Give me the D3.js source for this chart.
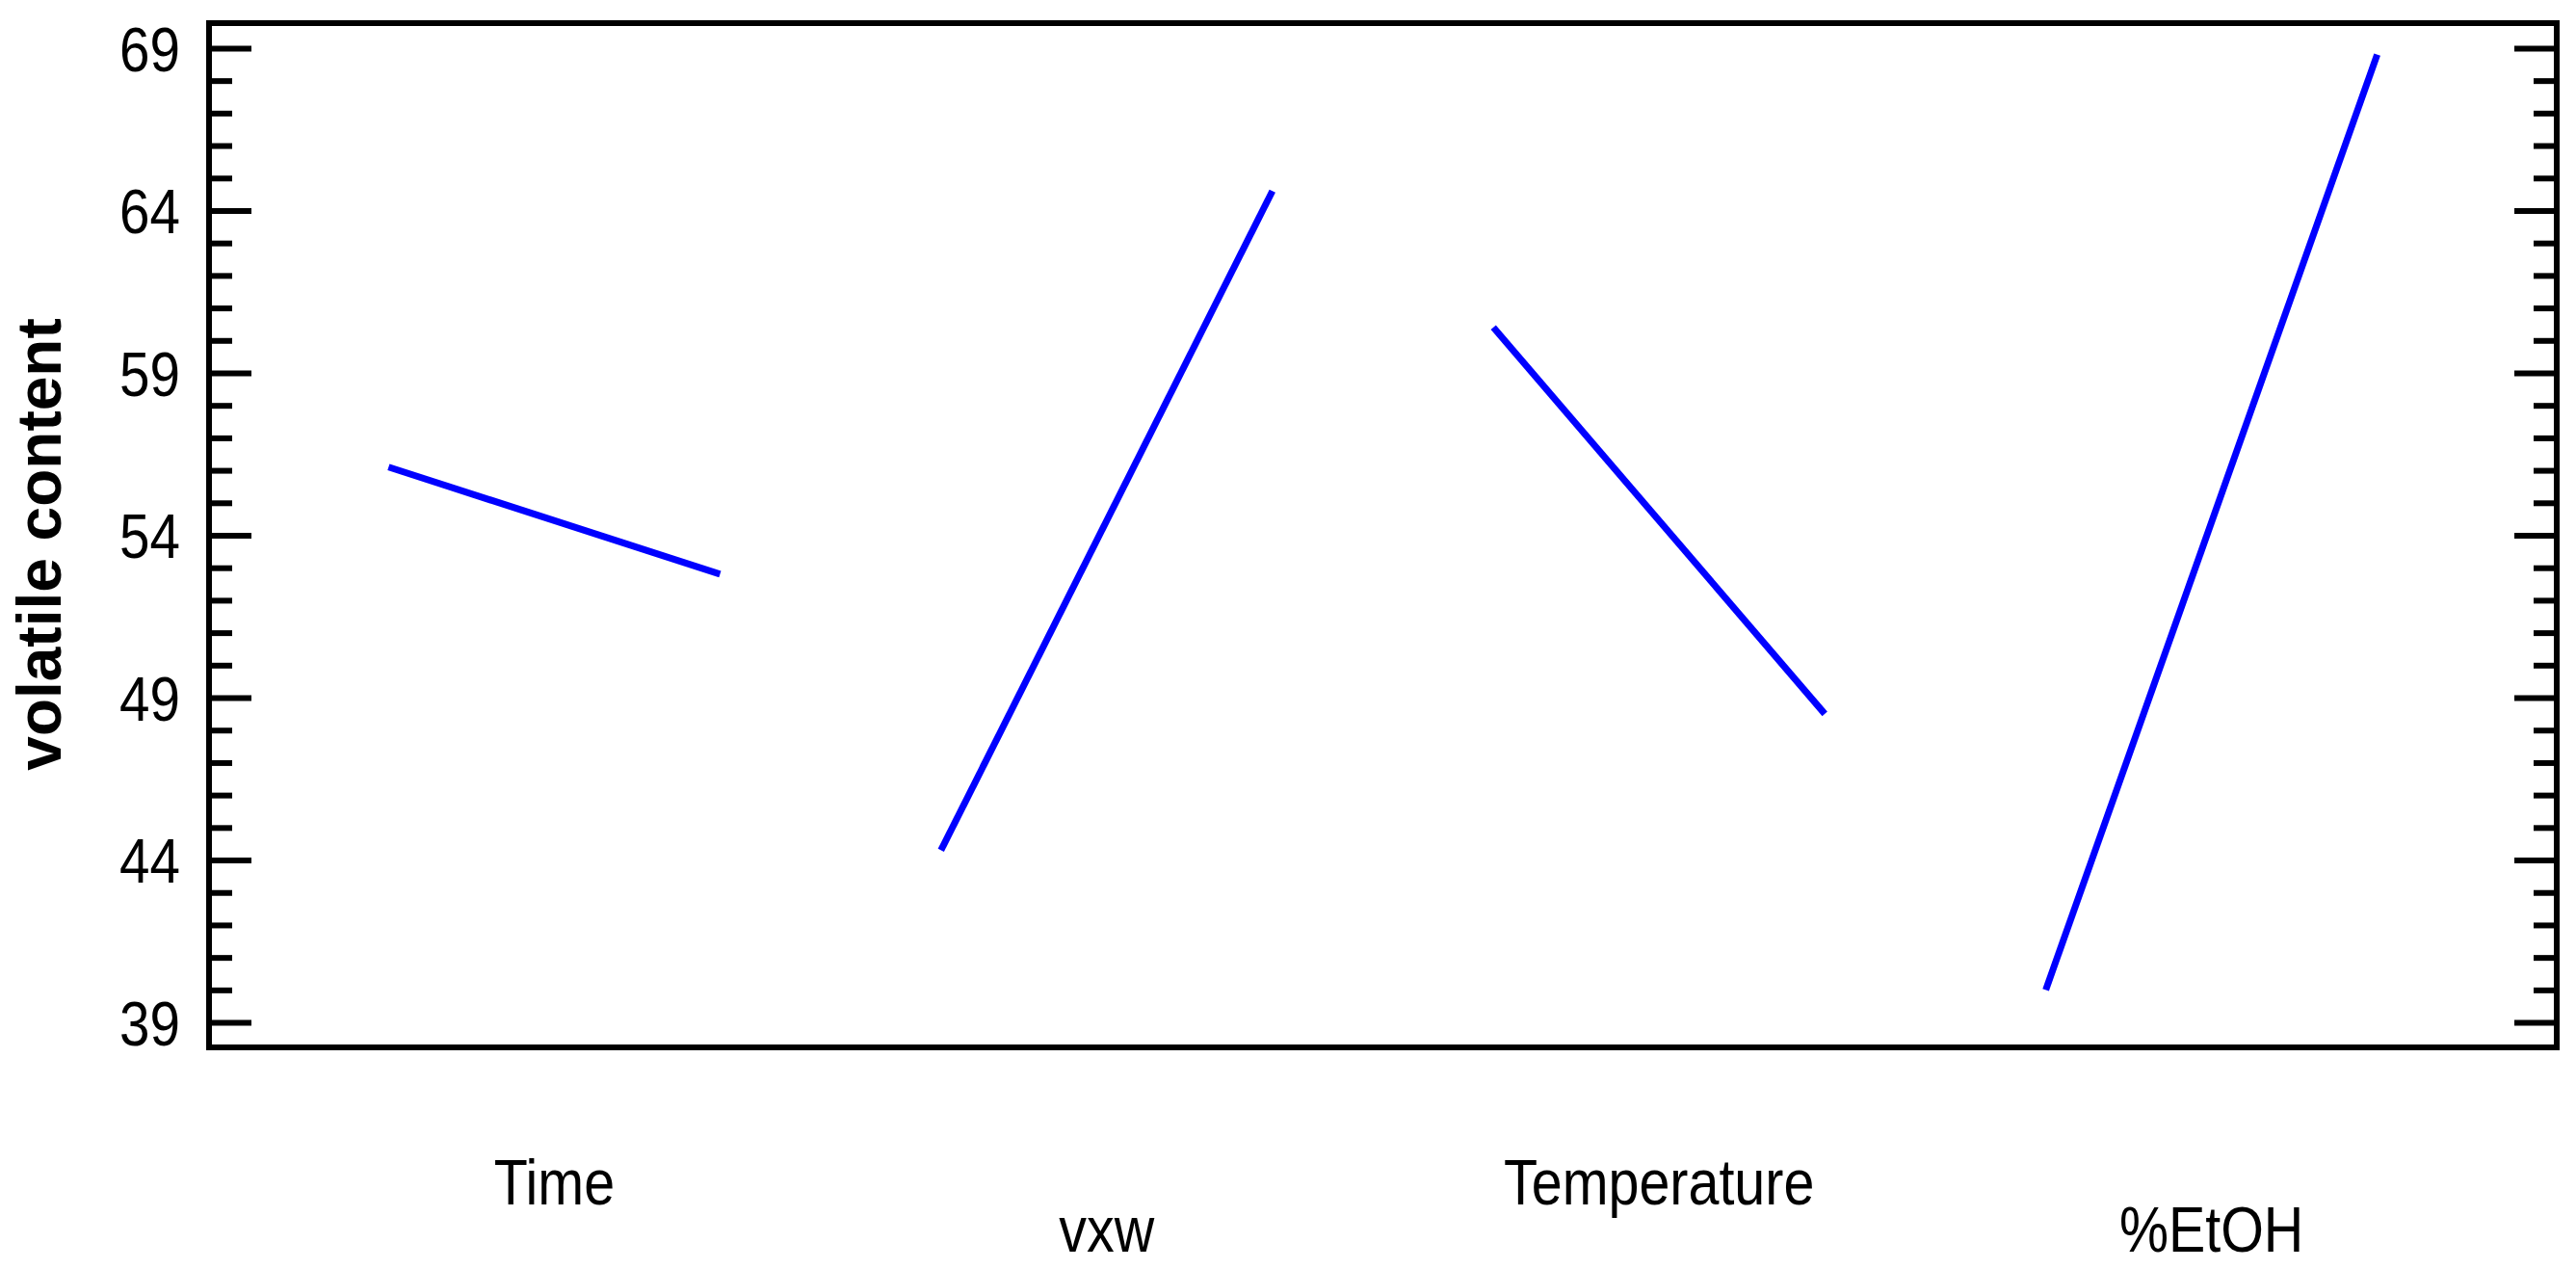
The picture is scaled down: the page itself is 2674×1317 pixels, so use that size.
<!DOCTYPE html>
<html>
<head>
<meta charset="utf-8">
<script src="https://cdn.jsdelivr.net/npm/d3@7"></script>
<style>
  html, body { margin: 0; padding: 0; background: #fff; }
  svg { display: block; }
  text { font-family: "Liberation Sans", Arial, sans-serif; fill: #000; }
</style>
</head>
<body>
<div id="chart"></div>
<script>
// factors of the main effects plot, low level -> high level
var factors = ["Time", "vxw", "Temperature", "%EtOH"];
var lowValues = [56.1, 44.3, 60.4, 40.0];
var highValues = [52.8, 64.6, 48.5, 68.8];
var levels = [-1, 1];

var majorTicks = [39, 44, 49, 54, 59, 64, 69];
var minorTicks = d3.range(39, 70).filter(function(v) { return majorTicks.indexOf(v) < 0; });

var W = 2674, H = 1317;
var frame = {left: 217, right: 2654, top: 24, bottom: 1087};
var halfWidth = 0.3;   // each factor spans +-0.3 around its slot
var squeeze = 0.87;    // the original font is a bit narrow

var x = d3.scaleLinear().domain([-0.625, 3.625]).range([frame.left, frame.right]);
var y = d3.scaleLinear().domain([38.23, 69.77]).range([frame.bottom, frame.top]);

var svg = d3.select("#chart").append("svg")
    .attr("width", W)
    .attr("height", H);

// left axis: major ticks pointing inwards, with labels
var yAxisL = d3.axisLeft(y).tickValues(majorTicks)
    .tickSizeInner(-44).tickSizeOuter(0).tickPadding(30)
    .tickFormat(d3.format("d"));
var gL = svg.append("g")
    .attr("transform", "translate(" + frame.left + ",0)")
    .call(yAxisL);
gL.select(".domain").remove();
gL.selectAll(".tick line").attr("stroke", "#000").attr("stroke-width", 6);
gL.selectAll(".tick text")
    .attr("font-size", 65)
    .attr("font-family", "Liberation Sans, Arial, sans-serif")
    .attr("x", -30 / squeeze)
    .attr("dy", "0.36em")
    .attr("transform", "scale(" + squeeze + ",1)");

// minor ticks left
var gLm = svg.append("g")
    .attr("transform", "translate(" + frame.left + ",0)")
    .call(d3.axisLeft(y).tickValues(minorTicks).tickSizeInner(-24).tickSizeOuter(0).tickFormat(""));
gLm.select(".domain").remove();
gLm.selectAll(".tick line").attr("stroke", "#000").attr("stroke-width", 6);

// right axis, ticks only
var gR = svg.append("g")
    .attr("transform", "translate(" + frame.right + ",0)")
    .call(d3.axisRight(y).tickValues(majorTicks).tickSizeInner(-44).tickSizeOuter(0).tickFormat(""));
gR.select(".domain").remove();
gR.selectAll(".tick line").attr("stroke", "#000").attr("stroke-width", 6);

var gRm = svg.append("g")
    .attr("transform", "translate(" + frame.right + ",0)")
    .call(d3.axisRight(y).tickValues(minorTicks).tickSizeInner(-24).tickSizeOuter(0).tickFormat(""));
gRm.select(".domain").remove();
gRm.selectAll(".tick line").attr("stroke", "#000").attr("stroke-width", 6);

// frame
svg.append("rect")
    .attr("x", frame.left)
    .attr("y", frame.top)
    .attr("width", frame.right - frame.left)
    .attr("height", frame.bottom - frame.top)
    .attr("fill", "none")
    .attr("stroke", "#000")
    .attr("stroke-width", 6);

// effect lines
var line = d3.line()
    .x(function(d) { return x(d.slot + d.level * halfWidth); })
    .y(function(d) { return y(d.value); });

var effects = factors.map(function(f, i) {
  return [
    {slot: i, level: levels[0], value: lowValues[i]},
    {slot: i, level: levels[1], value: highValues[i]}
  ];
});

svg.append("g").selectAll("path")
    .data(effects)
    .enter()
    .append("path")
    .attr("d", line)
    .attr("fill", "none")
    .attr("stroke", "#0000ff")
    .attr("stroke-width", 7);

// factor names, staggered on two rows
svg.append("g").selectAll("text")
    .data(factors)
    .enter()
    .append("text")
    .attr("text-anchor", "middle")
    .attr("font-size", 66)
    .attr("transform", function(d, i) {
      var ty = (i % 2 === 0) ? 1250 : 1299;
      return "translate(" + x(i) + "," + ty + ") scale(" + squeeze + ",1)";
    })
    .text(function(d) { return d; });

// y label
svg.append("text")
    .attr("text-anchor", "middle")
    .attr("font-size", 64)
    .attr("font-weight", "bold")
    .attr("transform", "translate(63," + 565 + ") rotate(-90)")
    .text("volatile content");
</script>
</body>
</html>
